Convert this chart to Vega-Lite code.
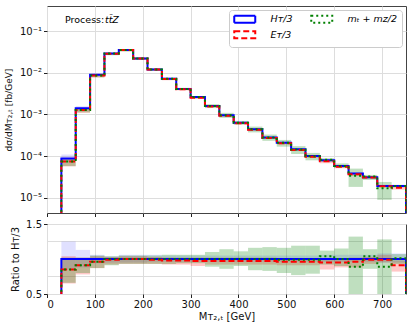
{
  "$schema": "https://vega.github.io/schema/vega-lite/v6.json",
  "padding": {"left": 3, "top": 5, "right": 6, "bottom": 4},
  "spacing": 11,
  "bounds": "flush",
  "config": {
    "font": "DejaVu Sans",
    "view": {"stroke": "#444", "strokeWidth": 1},
    "axis": {"domain": false, "gridColor": "#dddddd", "gridWidth": 1, "tickColor": "#222", "tickSize": 3.5, "labelFontSize": 10, "labelColor": "#111", "titleFontSize": 10, "titleFontWeight": "normal", "titleColor": "#111", "labelFont": "DejaVu Sans", "titleFont": "DejaVu Sans", "labelPadding": 2}
  },
  "datasets": {
    "steps": [
      {"s": "H", "x": 30, "v": 3.5e-6, "r": 0.46},
      {"s": "H", "x": 30, "v": 8.7e-5, "r": 1},
      {"s": "H", "x": 60, "v": 1.4e-3, "r": 1},
      {"s": "H", "x": 90, "v": 8.9e-3, "r": 1},
      {"s": "H", "x": 120, "v": 2.9e-2, "r": 1},
      {"s": "H", "x": 150, "v": 3.5e-2, "r": 1},
      {"s": "H", "x": 180, "v": 2.2e-2, "r": 1},
      {"s": "H", "x": 210, "v": 1.2e-2, "r": 1},
      {"s": "H", "x": 240, "v": 7.2e-3, "r": 1},
      {"s": "H", "x": 270, "v": 4.1e-3, "r": 1},
      {"s": "H", "x": 300, "v": 2.6e-3, "r": 1},
      {"s": "H", "x": 330, "v": 1.6e-3, "r": 1},
      {"s": "H", "x": 360, "v": 9.6e-4, "r": 1},
      {"s": "H", "x": 390, "v": 6.3e-4, "r": 1},
      {"s": "H", "x": 420, "v": 4.4e-4, "r": 1},
      {"s": "H", "x": 450, "v": 2.8e-4, "r": 1},
      {"s": "H", "x": 480, "v": 2.1e-4, "r": 1},
      {"s": "H", "x": 510, "v": 1.45e-4, "r": 1},
      {"s": "H", "x": 540, "v": 1.0e-4, "r": 1},
      {"s": "H", "x": 570, "v": 7.9e-5, "r": 1},
      {"s": "H", "x": 600, "v": 5.8e-5, "r": 1},
      {"s": "H", "x": 630, "v": 3.8e-5, "r": 1},
      {"s": "H", "x": 660, "v": 3.1e-5, "r": 1},
      {"s": "H", "x": 690, "v": 1.9e-5, "r": 1},
      {"s": "H", "x": 720, "v": 1.9e-5, "r": 1},
      {"s": "H", "x": 750, "v": 1.9e-5, "r": 1},
      {"s": "H", "x": 750, "v": 3.5e-6, "r": 0.46},
      {"s": "E", "x": 30, "v": 3.5e-6, "r": 0.46},
      {"s": "E", "x": 30, "v": 7.4e-5, "r": 0.85},
      {"s": "E", "x": 60, "v": 1.27e-3, "r": 0.91},
      {"s": "E", "x": 90, "v": 8.54e-3, "r": 0.96},
      {"s": "E", "x": 120, "v": 2.87e-2, "r": 0.99},
      {"s": "E", "x": 150, "v": 3.5e-2, "r": 1.0},
      {"s": "E", "x": 180, "v": 2.2e-2, "r": 1.0},
      {"s": "E", "x": 210, "v": 1.19e-2, "r": 0.99},
      {"s": "E", "x": 240, "v": 7.06e-3, "r": 0.98},
      {"s": "E", "x": 270, "v": 4.02e-3, "r": 0.98},
      {"s": "E", "x": 300, "v": 2.52e-3, "r": 0.97},
      {"s": "E", "x": 330, "v": 1.55e-3, "r": 0.97},
      {"s": "E", "x": 360, "v": 9.31e-4, "r": 0.97},
      {"s": "E", "x": 390, "v": 6.11e-4, "r": 0.97},
      {"s": "E", "x": 420, "v": 4.27e-4, "r": 0.97},
      {"s": "E", "x": 450, "v": 2.72e-4, "r": 0.97},
      {"s": "E", "x": 480, "v": 2.02e-4, "r": 0.96},
      {"s": "E", "x": 510, "v": 1.39e-4, "r": 0.96},
      {"s": "E", "x": 540, "v": 9.6e-5, "r": 0.96},
      {"s": "E", "x": 570, "v": 7.5e-5, "r": 0.95},
      {"s": "E", "x": 600, "v": 5.51e-5, "r": 0.95},
      {"s": "E", "x": 630, "v": 3.65e-5, "r": 0.96},
      {"s": "E", "x": 660, "v": 3.07e-5, "r": 0.99},
      {"s": "E", "x": 690, "v": 1.88e-5, "r": 0.99},
      {"s": "E", "x": 720, "v": 1.73e-5, "r": 0.91},
      {"s": "E", "x": 750, "v": 1.73e-5, "r": 0.91},
      {"s": "E", "x": 750, "v": 3.5e-6, "r": 0.46},
      {"s": "M", "x": 30, "v": 3.5e-6, "r": 0.46},
      {"s": "M", "x": 30, "v": 7.4e-5, "r": 0.85},
      {"s": "M", "x": 60, "v": 1.27e-3, "r": 0.91},
      {"s": "M", "x": 90, "v": 8.54e-3, "r": 0.96},
      {"s": "M", "x": 120, "v": 2.9e-2, "r": 1.0},
      {"s": "M", "x": 150, "v": 3.5e-2, "r": 1.0},
      {"s": "M", "x": 180, "v": 2.2e-2, "r": 1.0},
      {"s": "M", "x": 210, "v": 1.2e-2, "r": 1.0},
      {"s": "M", "x": 240, "v": 7.2e-3, "r": 1.0},
      {"s": "M", "x": 270, "v": 4.1e-3, "r": 1.0},
      {"s": "M", "x": 300, "v": 2.6e-3, "r": 1.0},
      {"s": "M", "x": 330, "v": 1.6e-3, "r": 1.0},
      {"s": "M", "x": 360, "v": 9.6e-4, "r": 1.0},
      {"s": "M", "x": 390, "v": 6.3e-4, "r": 1.0},
      {"s": "M", "x": 420, "v": 4.4e-4, "r": 1.0},
      {"s": "M", "x": 450, "v": 2.8e-4, "r": 1.0},
      {"s": "M", "x": 480, "v": 2.08e-4, "r": 0.99},
      {"s": "M", "x": 510, "v": 1.44e-4, "r": 0.99},
      {"s": "M", "x": 540, "v": 9.9e-5, "r": 0.99},
      {"s": "M", "x": 570, "v": 8.2e-5, "r": 1.04},
      {"s": "M", "x": 600, "v": 5.8e-5, "r": 1.0},
      {"s": "M", "x": 630, "v": 3.38e-5, "r": 0.89},
      {"s": "M", "x": 660, "v": 3.22e-5, "r": 1.04},
      {"s": "M", "x": 690, "v": 1.69e-5, "r": 0.89},
      {"s": "M", "x": 720, "v": 1.92e-5, "r": 1.01},
      {"s": "M", "x": 750, "v": 1.92e-5, "r": 1.01},
      {"s": "M", "x": 750, "v": 3.5e-6, "r": 0.46}
    ],
    "bands": [
      {"s": "H", "lo": 30, "hi": 60, "blo": 7.4e-5, "bhi": 1.09e-4, "rlo": 0.85, "rhi": 1.25},
      {"s": "H", "lo": 60, "hi": 90, "blo": 1.23e-3, "bhi": 1.58e-3, "rlo": 0.88, "rhi": 1.13},
      {"s": "H", "lo": 90, "hi": 120, "blo": 8.37e-3, "bhi": 9.43e-3, "rlo": 0.94, "rhi": 1.06},
      {"s": "H", "lo": 120, "hi": 150, "blo": 2.76e-2, "bhi": 3.02e-2, "rlo": 0.95, "rhi": 1.04},
      {"s": "H", "lo": 150, "hi": 180, "blo": 3.33e-2, "bhi": 3.71e-2, "rlo": 0.95, "rhi": 1.06},
      {"s": "H", "lo": 180, "hi": 210, "blo": 2.09e-2, "bhi": 2.33e-2, "rlo": 0.95, "rhi": 1.06},
      {"s": "H", "lo": 210, "hi": 240, "blo": 1.15e-2, "bhi": 1.27e-2, "rlo": 0.96, "rhi": 1.06},
      {"s": "H", "lo": 240, "hi": 270, "blo": 6.91e-3, "bhi": 7.56e-3, "rlo": 0.96, "rhi": 1.05},
      {"s": "H", "lo": 270, "hi": 300, "blo": 3.94e-3, "bhi": 4.31e-3, "rlo": 0.96, "rhi": 1.05},
      {"s": "H", "lo": 300, "hi": 330, "blo": 2.50e-3, "bhi": 2.73e-3, "rlo": 0.96, "rhi": 1.05},
      {"s": "H", "lo": 330, "hi": 360, "blo": 1.54e-3, "bhi": 1.68e-3, "rlo": 0.96, "rhi": 1.05},
      {"s": "H", "lo": 360, "hi": 390, "blo": 9.22e-4, "bhi": 1.01e-3, "rlo": 0.96, "rhi": 1.05},
      {"s": "H", "lo": 390, "hi": 420, "blo": 6.05e-4, "bhi": 6.62e-4, "rlo": 0.96, "rhi": 1.05},
      {"s": "H", "lo": 420, "hi": 450, "blo": 4.22e-4, "bhi": 4.62e-4, "rlo": 0.96, "rhi": 1.05},
      {"s": "H", "lo": 450, "hi": 480, "blo": 2.69e-4, "bhi": 2.94e-4, "rlo": 0.96, "rhi": 1.05},
      {"s": "H", "lo": 480, "hi": 510, "blo": 2.02e-4, "bhi": 2.21e-4, "rlo": 0.96, "rhi": 1.05},
      {"s": "H", "lo": 510, "hi": 540, "blo": 1.39e-4, "bhi": 1.52e-4, "rlo": 0.96, "rhi": 1.05},
      {"s": "H", "lo": 540, "hi": 570, "blo": 9.6e-5, "bhi": 1.05e-4, "rlo": 0.96, "rhi": 1.05},
      {"s": "H", "lo": 570, "hi": 600, "blo": 7.58e-5, "bhi": 8.37e-5, "rlo": 0.96, "rhi": 1.06},
      {"s": "H", "lo": 600, "hi": 630, "blo": 5.57e-5, "bhi": 6.15e-5, "rlo": 0.96, "rhi": 1.06},
      {"s": "H", "lo": 630, "hi": 660, "blo": 3.65e-5, "bhi": 4.03e-5, "rlo": 0.96, "rhi": 1.06},
      {"s": "H", "lo": 660, "hi": 690, "blo": 2.98e-5, "bhi": 3.29e-5, "rlo": 0.96, "rhi": 1.06},
      {"s": "H", "lo": 690, "hi": 720, "blo": 1.81e-5, "bhi": 2.05e-5, "rlo": 0.95, "rhi": 1.08},
      {"s": "H", "lo": 720, "hi": 750, "blo": 1.81e-5, "bhi": 2.05e-5, "rlo": 0.95, "rhi": 1.08},
      {"s": "E", "lo": 30, "hi": 60, "blo": 5.66e-5, "bhi": 9.05e-5, "rlo": 0.65, "rhi": 1.04},
      {"s": "E", "lo": 60, "hi": 90, "blo": 1.09e-3, "bhi": 1.43e-3, "rlo": 0.78, "rhi": 1.02},
      {"s": "E", "lo": 90, "hi": 120, "blo": 7.74e-3, "bhi": 9.26e-3, "rlo": 0.87, "rhi": 1.04},
      {"s": "E", "lo": 120, "hi": 150, "blo": 2.67e-2, "bhi": 2.99e-2, "rlo": 0.92, "rhi": 1.03},
      {"s": "E", "lo": 150, "hi": 180, "blo": 3.26e-2, "bhi": 3.64e-2, "rlo": 0.93, "rhi": 1.04},
      {"s": "E", "lo": 180, "hi": 210, "blo": 2.05e-2, "bhi": 2.29e-2, "rlo": 0.93, "rhi": 1.04},
      {"s": "E", "lo": 210, "hi": 240, "blo": 1.12e-2, "bhi": 1.24e-2, "rlo": 0.93, "rhi": 1.03},
      {"s": "E", "lo": 240, "hi": 270, "blo": 6.62e-3, "bhi": 7.34e-3, "rlo": 0.92, "rhi": 1.02},
      {"s": "E", "lo": 270, "hi": 300, "blo": 3.77e-3, "bhi": 4.18e-3, "rlo": 0.92, "rhi": 1.02},
      {"s": "E", "lo": 300, "hi": 330, "blo": 2.34e-3, "bhi": 2.65e-3, "rlo": 0.90, "rhi": 1.02},
      {"s": "E", "lo": 330, "hi": 360, "blo": 1.47e-3, "bhi": 1.63e-3, "rlo": 0.92, "rhi": 1.02},
      {"s": "E", "lo": 360, "hi": 390, "blo": 8.83e-4, "bhi": 9.79e-4, "rlo": 0.92, "rhi": 1.02},
      {"s": "E", "lo": 390, "hi": 420, "blo": 5.80e-4, "bhi": 6.43e-4, "rlo": 0.92, "rhi": 1.02},
      {"s": "E", "lo": 420, "hi": 450, "blo": 4.05e-4, "bhi": 4.49e-4, "rlo": 0.92, "rhi": 1.02},
      {"s": "E", "lo": 450, "hi": 480, "blo": 2.58e-4, "bhi": 2.86e-4, "rlo": 0.92, "rhi": 1.02},
      {"s": "E", "lo": 480, "hi": 510, "blo": 1.91e-4, "bhi": 2.12e-4, "rlo": 0.91, "rhi": 1.01},
      {"s": "E", "lo": 510, "hi": 540, "blo": 1.32e-4, "bhi": 1.46e-4, "rlo": 0.91, "rhi": 1.01},
      {"s": "E", "lo": 540, "hi": 570, "blo": 9.1e-5, "bhi": 1.01e-4, "rlo": 0.91, "rhi": 1.01},
      {"s": "E", "lo": 570, "hi": 600, "blo": 6.72e-5, "bhi": 7.9e-5, "rlo": 0.85, "rhi": 1.0},
      {"s": "E", "lo": 600, "hi": 630, "blo": 5.1e-5, "bhi": 5.8e-5, "rlo": 0.88, "rhi": 1.0},
      {"s": "E", "lo": 630, "hi": 660, "blo": 3.34e-5, "bhi": 3.88e-5, "rlo": 0.88, "rhi": 1.02},
      {"s": "E", "lo": 660, "hi": 690, "blo": 2.88e-5, "bhi": 3.19e-5, "rlo": 0.93, "rhi": 1.03},
      {"s": "E", "lo": 690, "hi": 720, "blo": 1.81e-5, "bhi": 2.01e-5, "rlo": 0.95, "rhi": 1.06},
      {"s": "E", "lo": 720, "hi": 750, "blo": 1.56e-5, "bhi": 1.86e-5, "rlo": 0.82, "rhi": 0.98},
      {"s": "M", "lo": 30, "hi": 60, "blo": 5.74e-5, "bhi": 8.87e-5, "rlo": 0.66, "rhi": 1.02},
      {"s": "M", "lo": 60, "hi": 90, "blo": 1.12e-3, "bhi": 1.43e-3, "rlo": 0.80, "rhi": 1.02},
      {"s": "M", "lo": 90, "hi": 120, "blo": 7.74e-3, "bhi": 9.35e-3, "rlo": 0.87, "rhi": 1.05},
      {"s": "M", "lo": 120, "hi": 150, "blo": 2.64e-2, "bhi": 3.02e-2, "rlo": 0.91, "rhi": 1.04},
      {"s": "M", "lo": 150, "hi": 180, "blo": 3.26e-2, "bhi": 3.68e-2, "rlo": 0.93, "rhi": 1.05},
      {"s": "M", "lo": 180, "hi": 210, "blo": 2.05e-2, "bhi": 2.31e-2, "rlo": 0.93, "rhi": 1.05},
      {"s": "M", "lo": 210, "hi": 240, "blo": 1.12e-2, "bhi": 1.26e-2, "rlo": 0.93, "rhi": 1.05},
      {"s": "M", "lo": 240, "hi": 270, "blo": 6.70e-3, "bhi": 7.63e-3, "rlo": 0.93, "rhi": 1.06},
      {"s": "M", "lo": 270, "hi": 300, "blo": 3.85e-3, "bhi": 4.35e-3, "rlo": 0.94, "rhi": 1.06},
      {"s": "M", "lo": 300, "hi": 330, "blo": 2.44e-3, "bhi": 2.76e-3, "rlo": 0.94, "rhi": 1.06},
      {"s": "M", "lo": 330, "hi": 360, "blo": 1.42e-3, "bhi": 1.76e-3, "rlo": 0.89, "rhi": 1.10},
      {"s": "M", "lo": 360, "hi": 390, "blo": 8.26e-4, "bhi": 1.09e-3, "rlo": 0.86, "rhi": 1.14},
      {"s": "M", "lo": 390, "hi": 420, "blo": 5.67e-4, "bhi": 6.99e-4, "rlo": 0.90, "rhi": 1.11},
      {"s": "M", "lo": 420, "hi": 450, "blo": 3.70e-4, "bhi": 5.10e-4, "rlo": 0.84, "rhi": 1.16},
      {"s": "M", "lo": 450, "hi": 480, "blo": 2.32e-4, "bhi": 3.28e-4, "rlo": 0.83, "rhi": 1.17},
      {"s": "M", "lo": 480, "hi": 510, "blo": 1.68e-4, "bhi": 2.44e-4, "rlo": 0.80, "rhi": 1.16},
      {"s": "M", "lo": 510, "hi": 540, "blo": 1.12e-4, "bhi": 1.73e-4, "rlo": 0.77, "rhi": 1.19},
      {"s": "M", "lo": 540, "hi": 570, "blo": 7.9e-5, "bhi": 1.19e-4, "rlo": 0.79, "rhi": 1.19},
      {"s": "M", "lo": 570, "hi": 600, "blo": 7.27e-5, "bhi": 8.85e-5, "rlo": 0.92, "rhi": 1.12},
      {"s": "M", "lo": 600, "hi": 630, "blo": 5.22e-5, "bhi": 6.67e-5, "rlo": 0.90, "rhi": 1.15},
      {"s": "M", "lo": 630, "hi": 660, "blo": 1.82e-5, "bhi": 5.0e-5, "rlo": 0.48, "rhi": 1.32},
      {"s": "M", "lo": 660, "hi": 690, "blo": 2.67e-5, "bhi": 3.53e-5, "rlo": 0.86, "rhi": 1.14},
      {"s": "M", "lo": 690, "hi": 720, "blo": 8.9e-6, "bhi": 2.39e-5, "rlo": 0.48, "rhi": 1.28},
      {"s": "M", "lo": 720, "hi": 750, "blo": 1.77e-5, "bhi": 2.03e-5, "rlo": 0.93, "rhi": 1.07}
    ]
  },
  "vconcat": [
    {
      "width": 359,
      "height": 207,
      "layer": [
        {
          "data": {"name": "bands"},
          "transform": [{"filter": "datum.s === 'H'"}],
          "mark": {"type": "rect", "clip": true, "color": "#0000ff", "opacity": 0.12},
          "encoding": {
            "x": {"field": "lo", "type": "quantitative", "scale": {"domain": [0, 750], "nice": false, "zero": false}, "axis": {"values": [0, 100, 200, 300, 400, 500, 600, 700], "labels": false, "title": null, "grid": true}},
            "x2": {"field": "hi"},
            "y": {"field": "blo", "type": "quantitative", "scale": {"type": "log", "domain": [4.3e-6, 0.4], "nice": false}, "axis": {"values": [1e-5, 1e-4, 1e-3, 1e-2, 1e-1], "grid": true, "title": "dσ/dMᴛ₂,ₜ [fb/GeV]", "titleFontSize": 9, "titlePadding": 6, "labelExpr": "'10' + replace(replace(replace(replace(replace(replace('' + round(log(datum.value)/LN10), '-', '⁻'), '1', '¹'), '2', '²'), '3', '³'), '4', '⁴'), '5', '⁵')"}},
            "y2": {"field": "bhi"}
          }
        },
        {
          "data": {"name": "bands"},
          "transform": [{"filter": "datum.s === 'E'"}],
          "mark": {"type": "rect", "clip": true, "color": "#ff0000", "opacity": 0.22},
          "encoding": {"x": {"field": "lo", "type": "quantitative"}, "x2": {"field": "hi"}, "y": {"field": "blo", "type": "quantitative"}, "y2": {"field": "bhi"}}
        },
        {
          "data": {"name": "bands"},
          "transform": [{"filter": "datum.s === 'M'"}],
          "mark": {"type": "rect", "clip": true, "color": "#008000", "opacity": 0.25},
          "encoding": {"x": {"field": "lo", "type": "quantitative"}, "x2": {"field": "hi"}, "y": {"field": "blo", "type": "quantitative"}, "y2": {"field": "bhi"}}
        },
        {
          "data": {"name": "steps"},
          "transform": [{"filter": "datum.s === 'H'"}],
          "mark": {"type": "line", "interpolate": "step-after", "clip": true, "strokeWidth": 2},
          "encoding": {
            "x": {"field": "x", "type": "quantitative"},
            "y": {"field": "v", "type": "quantitative"},
            "order": {"value": null},
            "color": {"field": "s", "type": "nominal", "scale": {"domain": ["H", "E", "M"], "range": ["#0000ff", "#ff0000", "#008000"]},
              "legend": {"title": null, "orient": "top-right", "offset": 4, "columns": 2, "gridAlign": "each", "columnPadding": 14, "rowPadding": 0, "padding": 4, "strokeColor": "#cccccc", "fillColor": "white", "cornerRadius": 3, "labelFontSize": 9.5, "labelFontStyle": "italic", "labelFont": "DejaVu Sans", "labelOffset": 21, "symbolOffset": 7, "symbolType": "M-3,-1H3V1H-3Z", "symbolSize": 49, "symbolStrokeWidth": 2, "symbolFillColor": "transparent",
                "labelExpr": "datum.label == 'H' ? 'Hᴛ/3' : datum.label == 'E' ? 'Eᴛ/3' : 'mₜ + mᴢ/2'"}},
            "strokeDash": {"field": "s", "type": "nominal", "scale": {"domain": ["H", "E", "M"], "range": [[1, 0], [6, 3], [2, 3]]},
              "legend": {"title": null, "orient": "top-right", "offset": 4, "columns": 2, "gridAlign": "each", "columnPadding": 14, "rowPadding": 0, "padding": 4, "strokeColor": "#cccccc", "fillColor": "white", "cornerRadius": 3, "labelFontSize": 9.5, "labelFontStyle": "italic", "labelFont": "DejaVu Sans", "labelOffset": 21, "symbolOffset": 7, "symbolType": "M-3,-1H3V1H-3Z", "symbolSize": 49, "symbolStrokeWidth": 2, "symbolFillColor": "transparent",
                "labelExpr": "datum.label == 'H' ? 'Hᴛ/3' : datum.label == 'E' ? 'Eᴛ/3' : 'mₜ + mᴢ/2'"}}
          }
        },
        {
          "data": {"name": "steps"},
          "transform": [{"filter": "datum.s === 'E'"}],
          "mark": {"type": "line", "interpolate": "step-after", "clip": true, "strokeWidth": 2},
          "encoding": {
            "x": {"field": "x", "type": "quantitative"},
            "y": {"field": "v", "type": "quantitative"},
            "order": {"value": null},
            "color": {"field": "s", "type": "nominal", "scale": {"domain": ["H", "E", "M"], "range": ["#0000ff", "#ff0000", "#008000"]}},
            "strokeDash": {"field": "s", "type": "nominal", "scale": {"domain": ["H", "E", "M"], "range": [[1, 0], [6, 3], [2, 3]]}}
          }
        },
        {
          "data": {"name": "steps"},
          "transform": [{"filter": "datum.s === 'M'"}],
          "mark": {"type": "line", "interpolate": "step-after", "clip": true, "strokeWidth": 2},
          "encoding": {
            "x": {"field": "x", "type": "quantitative"},
            "y": {"field": "v", "type": "quantitative"},
            "order": {"value": null},
            "color": {"field": "s", "type": "nominal", "scale": {"domain": ["H", "E", "M"], "range": ["#0000ff", "#ff0000", "#008000"]}},
            "strokeDash": {"field": "s", "type": "nominal", "scale": {"domain": ["H", "E", "M"], "range": [[1, 0], [6, 3], [2, 3]]}}
          }
        },
        {
          "data": {"values": [{"x": 37.6, "y": 0.183, "t": "Process:"}]},
          "mark": {"type": "text", "align": "left", "baseline": "middle", "fontSize": 9.5, "color": "#000"},
          "encoding": {"x": {"field": "x", "type": "quantitative"}, "y": {"field": "y", "type": "quantitative"}, "text": {"field": "t"}}
        },
        {
          "data": {"values": [{"x": 121, "y": 0.183, "t": "tt̄Z"}]},
          "mark": {"type": "text", "align": "left", "baseline": "middle", "fontSize": 9.5, "fontStyle": "italic", "color": "#000"},
          "encoding": {"x": {"field": "x", "type": "quantitative"}, "y": {"field": "y", "type": "quantitative"}, "text": {"field": "t"}}
        }
      ]
    },
    {
      "width": 359,
      "height": 70,
      "layer": [
        {
          "data": {"values": [{"g": 0.75}, {"g": 1.25}]},
          "mark": {"type": "rule", "color": "#dddddd", "strokeWidth": 1},
          "encoding": {"y": {"field": "g", "type": "quantitative"}}
        },
        {
          "data": {"name": "bands"},
          "transform": [{"filter": "datum.s === 'H'"}],
          "mark": {"type": "rect", "clip": true, "color": "#0000ff", "opacity": 0.12},
          "encoding": {
            "x": {"field": "lo", "type": "quantitative", "scale": {"domain": [0, 750], "nice": false, "zero": false}, "axis": {"values": [0, 100, 200, 300, 400, 500, 600, 700], "title": "Mᴛ₂,ₜ [GeV]", "grid": true, "titlePadding": 2}},
            "x2": {"field": "hi"},
            "y": {"field": "rlo", "type": "quantitative", "scale": {"domain": [0.5, 1.5], "nice": false, "zero": false}, "axis": {"values": [0.5, 1.0, 1.5], "format": ".1f", "grid": true, "labelOverlap": false, "title": "Ratio to Hᴛ/3", "titlePadding": 5}},
            "y2": {"field": "rhi"}
          }
        },
        {
          "data": {"name": "bands"},
          "transform": [{"filter": "datum.s === 'E'"}],
          "mark": {"type": "rect", "clip": true, "color": "#ff0000", "opacity": 0.22},
          "encoding": {"x": {"field": "lo", "type": "quantitative"}, "x2": {"field": "hi"}, "y": {"field": "rlo", "type": "quantitative"}, "y2": {"field": "rhi"}}
        },
        {
          "data": {"name": "bands"},
          "transform": [{"filter": "datum.s === 'M'"}],
          "mark": {"type": "rect", "clip": true, "color": "#008000", "opacity": 0.25},
          "encoding": {"x": {"field": "lo", "type": "quantitative"}, "x2": {"field": "hi"}, "y": {"field": "rlo", "type": "quantitative"}, "y2": {"field": "rhi"}}
        },
        {
          "data": {"name": "steps"},
          "transform": [{"filter": "datum.s === 'H'"}],
          "mark": {"type": "line", "interpolate": "step-after", "clip": true, "strokeWidth": 2, "color": "#0000ff"},
          "encoding": {"x": {"field": "x", "type": "quantitative"}, "y": {"field": "r", "type": "quantitative"}, "order": {"value": null}}
        },
        {
          "data": {"name": "steps"},
          "transform": [{"filter": "datum.s === 'E'"}],
          "mark": {"type": "line", "interpolate": "step-after", "clip": true, "strokeWidth": 2, "color": "#ff0000", "strokeDash": [6, 3]},
          "encoding": {"x": {"field": "x", "type": "quantitative"}, "y": {"field": "r", "type": "quantitative"}, "order": {"value": null}}
        },
        {
          "data": {"name": "steps"},
          "transform": [{"filter": "datum.s === 'M'"}],
          "mark": {"type": "line", "interpolate": "step-after", "clip": true, "strokeWidth": 2, "color": "#008000", "strokeDash": [2, 3]},
          "encoding": {"x": {"field": "x", "type": "quantitative"}, "y": {"field": "r", "type": "quantitative"}, "order": {"value": null}}
        }
      ]
    }
  ]
}
